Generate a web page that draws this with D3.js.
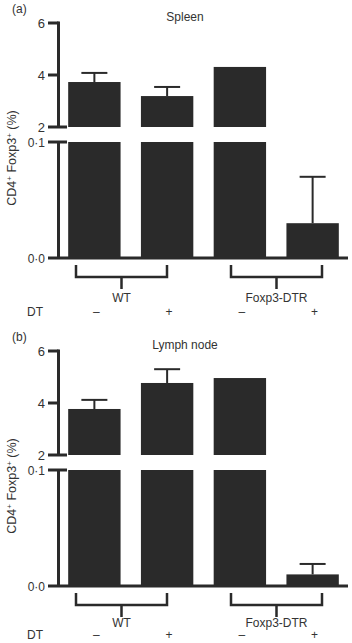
<!DOCTYPE html>
<html>
<head>
<meta charset="utf-8">
<script src="https://cdn.jsdelivr.net/npm/d3@7"></script>
<style>
  body { margin: 0; background: #fff; }
  text { font-family: "Liberation Sans", Arial, sans-serif; fill: #333; }
</style>
</head>
<body>
<script>
// data
var bars = ["WT-", "WT+", "DTR-", "DTR+"];
var dtSigns = ["\u2013", "+", "\u2013", "+"];
var groups = ["WT", "Foxp3-DTR"];
var spleenMean = [3.73, 3.19, 4.31, 0.030];
var spleenSem = [0.35, 0.35, 0, 0.040];
var lymphMean = [3.77, 4.77, 4.96, 0.010];
var lymphSem = [0.35, 0.53, 0, 0.009];
var upperTicks = [2, 4, 6];
var lowerTicks = [0, 0.1];

var W = 352, H = 643;
var svg = d3.select("body").append("svg")
    .attr("width", W).attr("height", H);

var fmt = function(v) { return v < 1 ? d3.format(".1f")(v).replace(".", "\u00b7") : v; };

var x = d3.scaleBand().domain(bars).range([58, 349])
    .paddingInner(0.28).paddingOuter(0.14);
var gx = d3.scalePoint().domain(groups).range([121.5, 276.5]);
var ink = "#2a2a2a";

function panel(top, tag, title, mean, sem, grpDy, dtDy) {
  var g = svg.append("g").attr("transform", "translate(0," + top + ")");
  var yU = d3.scaleLinear().domain([2, 6]).range([127, 23]);
  var yL = d3.scaleLinear().domain([0, 0.1]).range([258, 142]);
  var axX = 58.5;

  g.append("text").attr("x", 12).attr("y", 13).attr("font-size", 12).text(tag);
  g.append("text").attr("x", 185).attr("y", 21).attr("font-size", 12)
    .attr("text-anchor", "middle").text(title);

  // bars: upper segment 2..value, lower segment 0..0.1 (or value if smaller)
  bars.forEach(function(b, i) {
    var v = mean[i];
    if (v > 2) {
      g.append("rect").attr("x", x(b)).attr("width", x.bandwidth())
        .attr("y", yU(v)).attr("height", yU(2) - yU(v)).attr("fill", ink);
    }
    var lv = Math.min(v, 0.1);
    g.append("rect").attr("x", x(b)).attr("width", x.bandwidth())
      .attr("y", yL(lv)).attr("height", yL(0) - yL(lv)).attr("fill", ink);
    if (sem[i] > 0) {
      var ys = v > 2 ? yU : yL;
      var cx = x(b) + x.bandwidth() / 2;
      g.append("line").attr("x1", cx).attr("x2", cx)
        .attr("y1", ys(v)).attr("y2", ys(v + sem[i]))
        .attr("stroke", ink).attr("stroke-width", 2);
      g.append("line").attr("x1", cx - 13).attr("x2", cx + 13)
        .attr("y1", ys(v + sem[i])).attr("y2", ys(v + sem[i]))
        .attr("stroke", ink).attr("stroke-width", 2);
    }
  });

  // broken y axis
  var ax = g.append("g").attr("stroke", ink).attr("stroke-width", 3);
  ax.append("line").attr("x1", axX).attr("x2", axX)
    .attr("y1", yU(6) - 1.5).attr("y2", yU(2));
  ax.append("line").attr("x1", axX).attr("x2", axX)
    .attr("y1", yL(0.1)).attr("y2", yL(0));
  upperTicks.forEach(function(t) {
    ax.append("line").attr("x1", 48).attr("x2", t === 2 ? 67 : axX)
      .attr("y1", yU(t)).attr("y2", yU(t));
  });
  ax.append("line").attr("x1", 48).attr("x2", 67)
    .attr("y1", yL(0.1)).attr("y2", yL(0.1));
  ax.append("line").attr("x1", 48).attr("x2", 348)
    .attr("y1", yL(0)).attr("y2", yL(0));

  upperTicks.forEach(function(t) {
    g.append("text").attr("x", 45).attr("y", yU(t) + 4.5).attr("font-size", 13)
      .attr("text-anchor", "end").text(fmt(t));
  });
  lowerTicks.forEach(function(t) {
    g.append("text").attr("x", 45).attr("y", yL(t) + 4.5).attr("font-size", 12)
      .attr("text-anchor", "end").text(fmt(t));
  });

  var lab = g.append("text").attr("font-size", 12.5).attr("text-anchor", "middle")
    .attr("transform", "translate(16,158) rotate(-90)");
  lab.append("tspan").text("CD4");
  lab.append("tspan").attr("dy", -4).attr("font-size", 8).text("+");
  lab.append("tspan").attr("dy", 4).text(" Foxp3");
  lab.append("tspan").attr("dy", -4).attr("font-size", 8).text("+");
  lab.append("tspan").attr("dy", 4).text(" (%)");

  // group brackets
  var base = yL(0);
  groups.forEach(function(gr) {
    var c = gx(gr), l = c - 45.5, r = c + 45.5;
    g.append("path")
      .attr("d", "M" + l + "," + (base + 7) + "V" + (base + 19) + "H" + r + "V" + (base + 7)
        + "M" + c + "," + (base + 19) + "V" + (base + 31))
      .attr("fill", "none").attr("stroke", ink).attr("stroke-width", 2.5);
    g.append("text").attr("x", c).attr("y", base + grpDy).attr("font-size", 12)
      .attr("text-anchor", "middle").text(gr);
  });
  g.append("text").attr("x", 27).attr("y", base + dtDy).attr("font-size", 12).text("DT");
  bars.forEach(function(b, i) {
    g.append("text").attr("x", x(b) + x.bandwidth() / 2 + 2).attr("y", base + dtDy)
      .attr("font-size", 12).attr("text-anchor", "middle").text(dtSigns[i]);
  });
}

panel(0, "(a)", "Spleen", spleenMean, spleenSem, 44, 58);
panel(328, "(b)", "Lymph node", lymphMean, lymphSem, 41, 53);
</script>
</body>
</html>
